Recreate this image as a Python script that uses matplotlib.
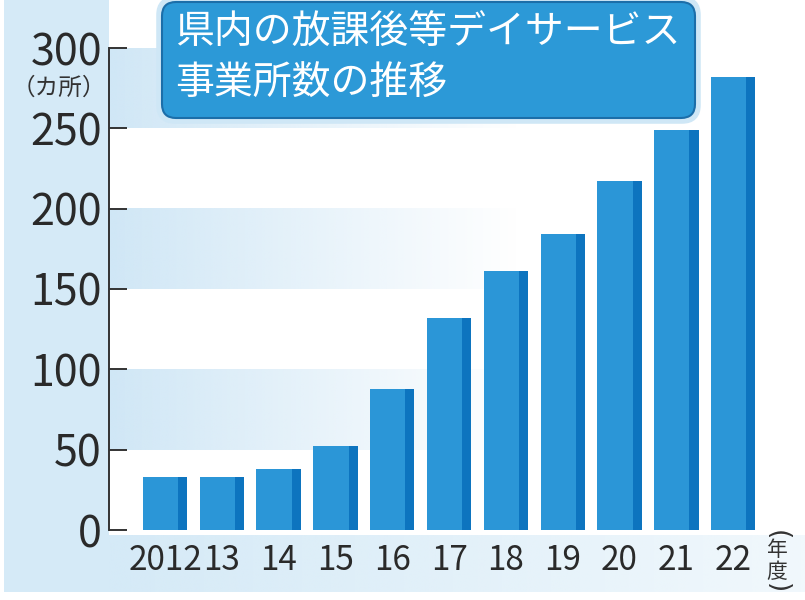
import matplotlib
matplotlib.use('Agg')
import matplotlib.pyplot as plt
import numpy as np
from matplotlib.patches import FancyBboxPatch, Rectangle
from matplotlib.colors import to_rgb

# データ
years = ['2012', '13', '14', '15', '16', '17', '18', '19', '20', '21', '22']
counts = [33, 33, 38, 52, 88, 132, 161, 184, 217, 249, 282]
yticks = [0, 50, 100, 150, 200, 250, 300]
title_lines = ['県内の放課後等デイサービス', '事業所数の推移']

# 色
bar_color = '#2b96d7'
bar_dark = '#0d74bf'
band_color = '#d0e7f6'
strip_color = '#d5eaf7'
title_fill = '#2c99d7'
title_edge = '#1c6ea9'

plt.rcParams['font.family'] = ['Noto Sans CJK JP', 'DejaVu Sans']

W, H = 805, 600
fig = plt.figure(figsize=(W / 100, H / 100), dpi=100)
fig.patch.set_facecolor('white')


def grad(color, n=256, fade=0.6):
    t = np.linspace(0, 1, n)
    img = np.zeros((1, n, 4))
    img[..., :3] = to_rgb(color)
    img[..., 3] = np.clip(1 - t / fade, 0, 1)
    return img


# 背景（ピクセル座標）
bg = fig.add_axes([0, 0, 1, 1], zorder=0)
bg.add_patch(Rectangle((4, 0), 105, 592, color=strip_color, lw=0))
bg.imshow(grad(strip_color, fade=1.5), extent=(109, W, 592, 535), aspect='auto',
          interpolation='bilinear')
bg.set_xlim(0, W)
bg.set_ylim(H, 0)
bg.axis('off')

# メイン
x = np.arange(len(years))
ax = fig.add_axes([109 / W, 70 / H, (790 - 109) / W, 482 / H], zorder=1)
ax.set_facecolor('none')
x0, x1 = -0.986, 11.0

for lo in [50, 150, 250]:
    ax.imshow(grad(band_color), extent=(x0, x1, lo, lo + 50), aspect='auto',
              interpolation='bilinear', zorder=0)
ax.set_xlim(x0, x1)
ax.set_ylim(0, 300)

bw = 0.78
dw = 0.16
ax.bar(x, counts, width=bw, color=bar_color, zorder=2)
ax.bar(x + bw / 2 - dw / 2, counts, width=dw, color=bar_dark, zorder=3)

for s in ['top', 'right', 'bottom']:
    ax.spines[s].set_visible(False)
ax.spines['left'].set_color('#333333')
ax.spines['left'].set_linewidth(1.4)

ax.set_yticks(yticks)
ax.set_yticklabels([str(v) for v in yticks], fontsize=31, color='#2a2a2a')
ax.tick_params(axis='y', direction='in', length=13, width=1.4, color='#333333', pad=5)
ax.set_xticks(x)
ax.set_xticklabels(years, fontsize=24, color='#2a2a2a')
ax.tick_params(axis='x', length=0, pad=9)

# 単位
fig.text(59 / W, 1 - 88 / H, '（カ所）', fontsize=17, color='#333333', ha='center', va='center')
fig.text(777 / W, 1 - 561 / H, '年\n度', fontsize=15, color='#333333',
         ha='center', va='center', linespacing=0.95)
fig.text(777 / W, 1 - 535 / H, '(', fontsize=19, color='#333333', family='DejaVu Sans',
         ha='center', va='center', rotation=270)
fig.text(777 / W, 1 - 588 / H, ')', fontsize=19, color='#333333', family='DejaVu Sans',
         ha='center', va='center', rotation=270)

# タイトル
ov = fig.add_axes([0, 0, 1, 1], zorder=3)
ov.add_patch(FancyBboxPatch((159, -1), 539, 122, boxstyle='round,pad=0,rounding_size=16',
                            fc='none', ec='#cfe7f6', lw=4))
ov.add_patch(FancyBboxPatch((162, 2), 533, 116, boxstyle='round,pad=0,rounding_size=14',
                            fc=title_fill, ec=title_edge, lw=1.5))
ov.text(175, 33, title_lines[0], fontsize=28, color='white', va='center', ha='left')
ov.text(175, 84, title_lines[1], fontsize=28, color='white', va='center', ha='left')
ov.set_xlim(0, W)
ov.set_ylim(H, 0)
ov.axis('off')

fig.savefig('out.png', dpi=100)
